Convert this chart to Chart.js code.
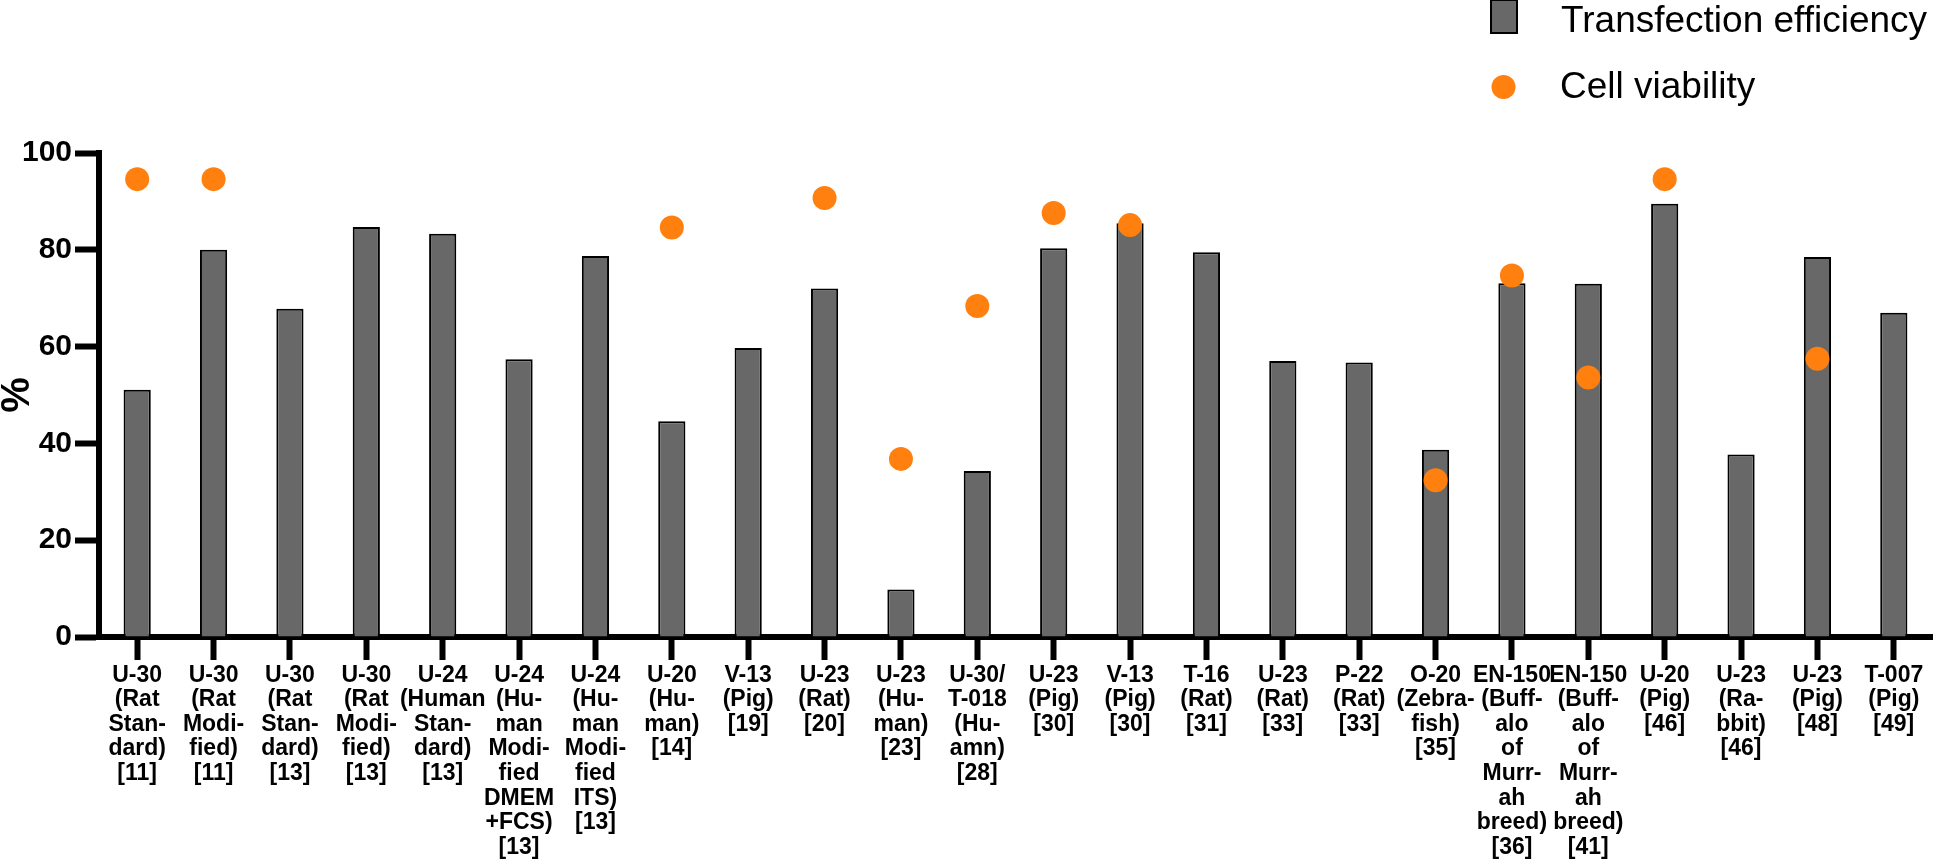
<!DOCTYPE html>
<html>
<head>
<meta charset="utf-8">
<script src="https://cdn.jsdelivr.net/npm/chart.js@4"></script>
<style>
  body { margin: 0; background: #fff; }
  #wrap { width: 1944px; height: 859px; }
</style>
</head>
<body>
<div id="wrap"><canvas id="myChart" width="1944" height="859"></canvas></div>
<script>
// x축 카테고리 (줄 단위)
const categories = [
    ['U-30', '(Rat', 'Stan-', 'dard)', '[11]'],
    ['U-30', '(Rat', 'Modi-', 'fied)', '[11]'],
    ['U-30', '(Rat', 'Stan-', 'dard)', '[13]'],
    ['U-30', '(Rat', 'Modi-', 'fied)', '[13]'],
    ['U-24', '(Human', 'Stan-', 'dard)', '[13]'],
    ['U-24', '(Hu-', 'man', 'Modi-', 'fied', 'DMEM', '+FCS)', '[13]'],
    ['U-24', '(Hu-', 'man', 'Modi-', 'fied', 'ITS)', '[13]'],
    ['U-20', '(Hu-', 'man)', '[14]'],
    ['V-13', '(Pig)', '[19]'],
    ['U-23', '(Rat)', '[20]'],
    ['U-23', '(Hu-', 'man)', '[23]'],
    ['U-30/', 'T-018', '(Hu-', 'amn)', '[28]'],
    ['U-23', '(Pig)', '[30]'],
    ['V-13', '(Pig)', '[30]'],
    ['T-16', '(Rat)', '[31]'],
    ['U-23', '(Rat)', '[33]'],
    ['P-22', '(Rat)', '[33]'],
    ['O-20', '(Zebra-', 'fish)', '[35]'],
    ['EN-150', '(Buff-', 'alo', 'of', 'Murr-', 'ah', 'breed)', '[36]'],
    ['EN-150', '(Buff-', 'alo', 'of', 'Murr-', 'ah', 'breed)', '[41]'],
    ['U-20', '(Pig)', '[46]'],
    ['U-23', '(Ra-', 'bbit)', '[46]'],
    ['U-23', '(Pig)', '[48]'],
    ['T-007', '(Pig)', '[49]']
];

// 형질감염 효율 (%)
const transfection = [51.1, 80.0, 67.8, 84.7, 83.3, 57.4, 78.7, 44.6, 59.7, 72.0, 9.8, 34.3,
                      80.3, 85.5, 79.5, 57.0, 56.7, 38.7, 73.1, 73.0, 89.5, 37.7, 78.5, 67.0];

// 세포 생존율 (%) - 값이 없는 곳은 null
const viability = [94.6, 94.6, null, null, null, null, null, 84.6, null, 90.7, 36.8, 68.4,
                   87.6, 85.1, null, null, null, 32.4, 74.7, 53.6, 94.6, null, 57.5, null];

const yTicks = [0, 20, 40, 60, 80, 100];

const FONT = "'Liberation Sans', Arial, Helvetica, sans-serif";
const barColor = '#686868';
const dotColor = '#FF800E';

// 오른쪽 위 범례 직접 그리기
const legendPlugin = {
    id: 'cornerLegend',
    afterDraw(chart) {
        const c = chart.ctx;
        const sets = chart.data.datasets;
        c.save();
        // 막대 범례
        c.fillStyle = barColor;
        c.strokeStyle = '#000';
        c.lineWidth = 2;
        c.fillRect(1491, 0, 26, 33);
        c.strokeRect(1491, 0, 26, 33);
        // 점 범례
        c.fillStyle = dotColor;
        c.beginPath();
        c.arc(1503.5, 87, 12, 0, Math.PI * 2);
        c.fill();
        c.fillStyle = '#000';
        c.font = '37px ' + FONT;
        c.textBaseline = 'alphabetic';
        c.textAlign = 'left';
        c.fillText(sets[1].label, 1561, 31.5);
        c.fillText(sets[0].label, 1560, 98);
        c.restore();
    }
};

const ctx = document.getElementById('myChart').getContext('2d');
const myChart = new Chart(ctx, {
    type: 'bar',
    data: {
        labels: categories,
        datasets: [{
            type: 'line',
            label: 'Cell viability',
            data: viability,
            showLine: false,
            pointRadius: 12,
            pointHoverRadius: 12,
            pointBackgroundColor: dotColor,
            pointBorderWidth: 0,
            borderColor: dotColor,
            order: 0
        }, {
            label: 'Transfection efficiency',
            data: transfection,
            backgroundColor: barColor,
            borderColor: '#000',
            borderWidth: 2,
            categoryPercentage: 1,
            barPercentage: 0.356,
            order: 1
        }]
    },
    options: {
        responsive: false,
        animation: false,
        layout: { padding: { top: 153, right: 2, left: 0, bottom: 0 } },
        plugins: {
            legend: { display: false },
            tooltip: { enabled: false }
        },
        scales: {
            x: {
                offset: true,
                grid: {
                    offset: false,
                    drawOnChartArea: false,
                    color: '#000',
                    tickLength: 23,
                    tickWidth: 6
                },
                border: { color: '#000', width: 6 },
                ticks: {
                    autoSkip: false,
                    maxRotation: 0,
                    minRotation: 0,
                    padding: 3,
                    color: '#000',
                    font: { family: FONT, size: 23, weight: 'bold', lineHeight: 1.07 }
                },
                afterFit(scale) { scale.height = 222; }
            },
            y: {
                min: 0,
                max: 100,
                afterBuildTicks(scale) { scale.ticks = yTicks.map(v => ({ value: v })); },
                grid: {
                    drawOnChartArea: false,
                    color: '#000',
                    tickLength: 24,
                    tickWidth: 6
                },
                border: { color: '#000', width: 6 },
                ticks: {
                    padding: 3,
                    color: '#000',
                    font: { family: FONT, size: 30, weight: 'bold' }
                },
                title: {
                    display: true,
                    text: '%',
                    color: '#000',
                    padding: 0,
                    font: { family: FONT, size: 40, weight: 'bold', lineHeight: 0.875 }
                },
                afterFit(scale) { scale.width = 99; }
            }
        }
    },
    plugins: [legendPlugin]
});
</script>
</body>
</html>
